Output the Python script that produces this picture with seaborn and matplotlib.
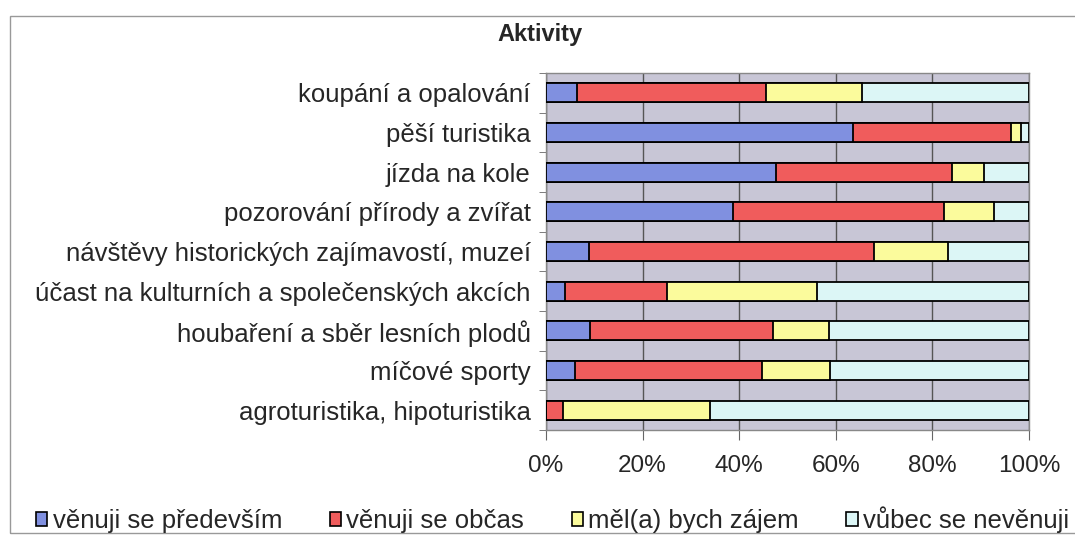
import matplotlib
matplotlib.use("Agg")
import matplotlib.pyplot as plt
from matplotlib.patches import Patch, Rectangle
from matplotlib.ticker import FixedLocator, PercentFormatter
import seaborn as sns
import pandas as pd
import numpy as np

# data (percent of respondents)
activities = [
    "koupání a opalování",
    "pěší turistika",
    "jízda na kole",
    "pozorování přírody a zvířat",
    "návštěvy historických zajímavostí, muzeí",
    "účast na kulturních a společenských akcích",
    "houbaření a sběr lesních plodů",
    "míčové sporty",
    "agroturistika, hipoturistika",
]
mainly = [6.4, 63.6, 47.6, 38.7, 8.8, 4.0, 9.2, 6.0, 0.0]
sometimes = [39.1, 32.7, 36.5, 43.8, 59.2, 21.0, 37.9, 38.8, 3.5]
interested = [20.0, 2.0, 6.6, 10.3, 15.2, 31.2, 11.5, 14.1, 30.5]
never = [34.5, 1.7, 9.3, 7.2, 16.8, 43.8, 41.4, 41.1, 66.0]

series_names = ["věnuji se především", "věnuji se občas", "měl(a) bych zájem", "vůbec se nevěnuji"]
series_colors = ["#8090e0", "#f05c5c", "#fbfb9c", "#dcf6f6"]
x_ticks = [0, 20, 40, 60, 80, 100]

sns.set_style("white")
plt.rcParams["font.family"] = ["Liberation Sans", "DejaVu Sans"]

df = pd.DataFrame({"activity": activities})
stack = np.cumsum(np.array([mainly, sometimes, interested, never]), axis=0)

fig = plt.figure(figsize=(10.75, 5.4), dpi=100)
ax = fig.add_axes([546 / 1075, 1 - 430 / 540, 483 / 1075, 357 / 540])
ax.set_facecolor("#c8c6d6")

# stacked bars: draw cumulative totals from the largest down
for i in range(3, -1, -1):
    df["value"] = stack[i]
    sns.barplot(data=df, x="value", y="activity", orient="h", ax=ax,
                color=series_colors[i], saturation=1, width=0.48,
                edgecolor="black", linewidth=1.3, zorder=3)

ax.set_xlim(0, 100)
ax.set_ylim(len(activities) - 0.5, -0.5)
ax.xaxis.set_major_locator(FixedLocator(x_ticks))
ax.xaxis.set_major_formatter(PercentFormatter(decimals=0))
ax.grid(axis="x", color="#555555", linewidth=1, zorder=1)
ax.set_xlabel("")
ax.set_ylabel("")

ax.tick_params(axis="x", labelsize=17.5, length=7, color="#666666", pad=11, bottom=True)
ax.tick_params(axis="y", labelsize=18.5, length=0, pad=11)
ax.yaxis.set_minor_locator(FixedLocator(np.arange(-0.5, len(activities), 1)))
ax.tick_params(axis="y", which="minor", length=5, color="#666666", left=True)
for s in ax.spines.values():
    s.set_color("#888888")
    s.set_linewidth(1)

fig.text(0.502, 1 - 35 / 540, "Aktivity", ha="center", va="center",
         fontsize=17, fontweight="bold")

handles = [Patch(facecolor=c, edgecolor="black", linewidth=1.2) for c in series_colors]
fig.legend(handles, series_names, loc="center", bbox_to_anchor=(0.514, 1 - 520 / 540),
           ncol=4, frameon=False, fontsize=18.5, handlelength=0.45, handleheight=0.45,
           handletextpad=0.2, columnspacing=1.85, borderaxespad=0)

# outer chart border
fig.patches.append(Rectangle((10 / 1075, 7 / 540), 1.1, 1 - 23 / 540,
                             transform=fig.transFigure, fill=False,
                             edgecolor="#999999", linewidth=1))

fig.savefig("out.png", dpi=100)
